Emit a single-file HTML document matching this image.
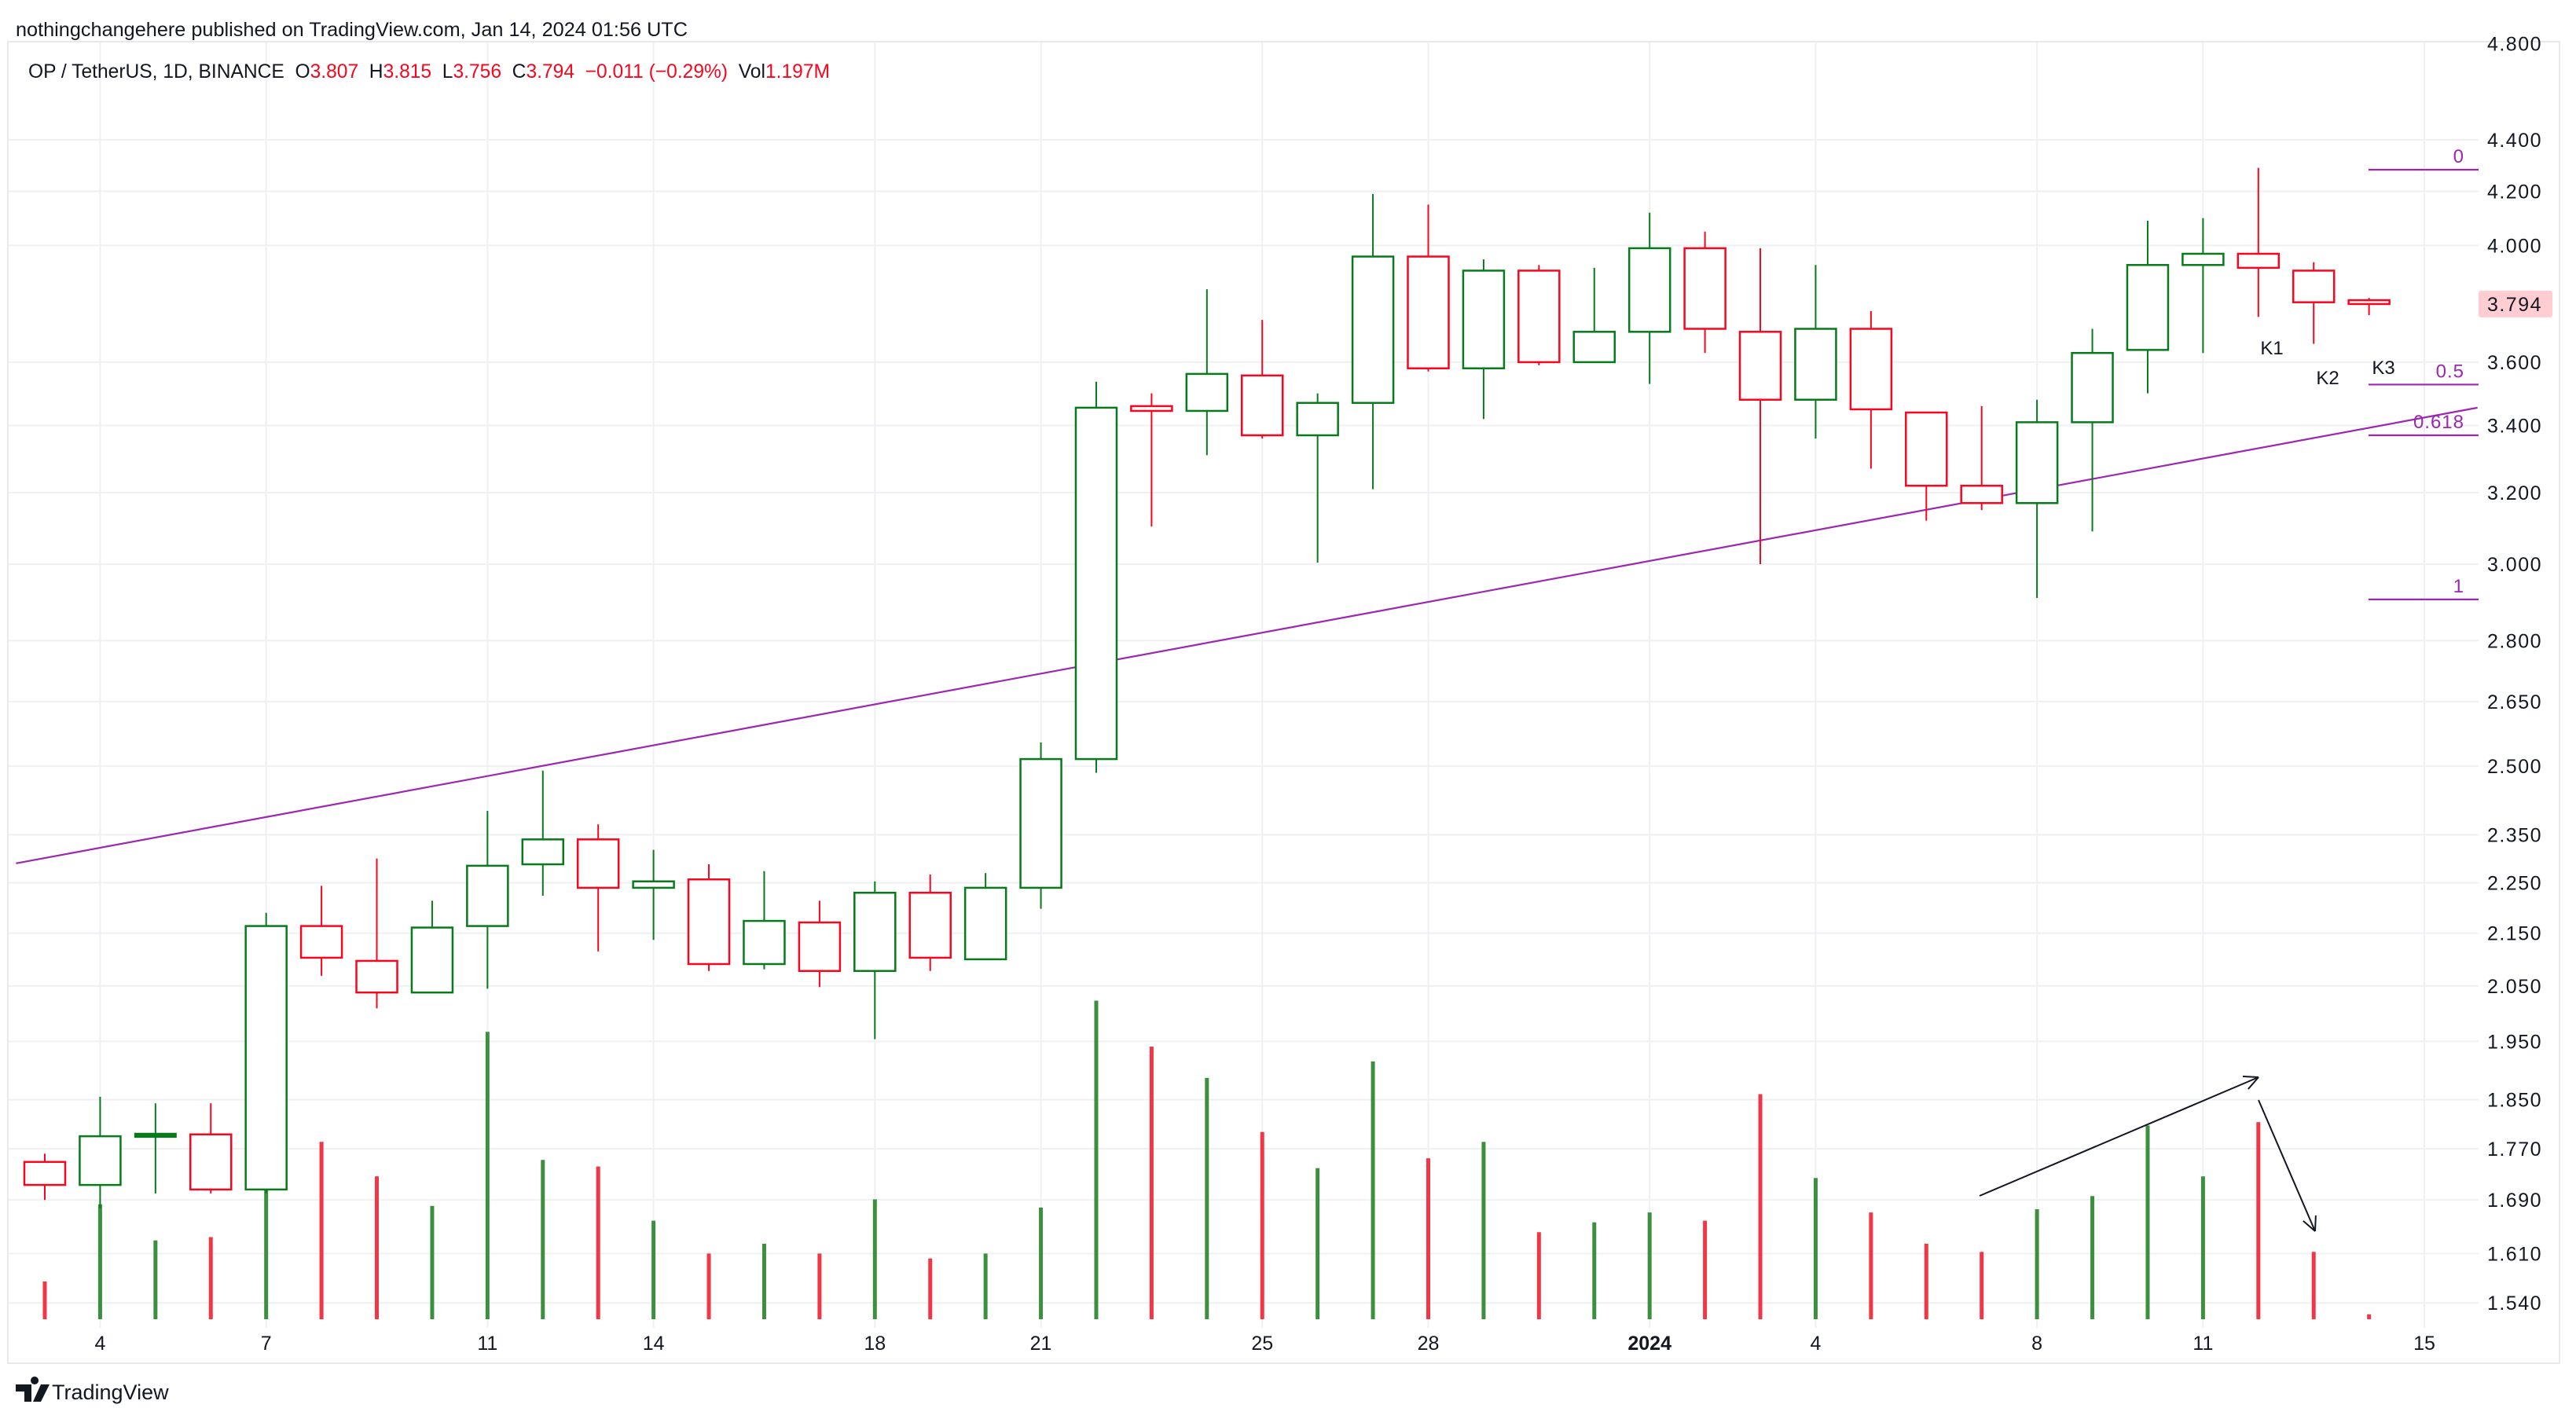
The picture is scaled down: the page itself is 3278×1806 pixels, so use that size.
<!DOCTYPE html>
<html><head><meta charset="utf-8"><style>
html,body{margin:0;padding:0;background:#fff;}
svg{display:block;font-family:"Liberation Sans",sans-serif;}
</style></head><body>
<svg id="chart" width="3278" height="1806" viewBox="0 0 3278 1806" xmlns="http://www.w3.org/2000/svg">
<rect x="0" y="0" width="3278" height="1806" fill="#fff"/>
<text x="20" y="46" font-size="25" fill="#131722" textLength="855" lengthAdjust="spacingAndGlyphs">nothingchangehere published on TradingView.com, Jan 14, 2024 01:56 UTC</text>
<rect x="10" y="53" width="3247" height="1682" fill="none" stroke="#e8e9ee" stroke-width="2"/>
<g id="grid"></g>
<g id="trend"></g>
<g id="vol"></g>
<g id="candles"></g>
<g id="fib"></g>
<g id="ann"></g>
<g id="axis"></g>
<text x="36" y="99" font-size="25" style="white-space:pre" xml:space="preserve" textLength="1020" lengthAdjust="spacingAndGlyphs"><tspan fill="#131722">OP / TetherUS, 1D, BINANCE  O</tspan><tspan fill="#f7061f">3.807</tspan><tspan fill="#131722">  H</tspan><tspan fill="#f7061f">3.815</tspan><tspan fill="#131722">  L</tspan><tspan fill="#f7061f">3.756</tspan><tspan fill="#131722">  C</tspan><tspan fill="#f7061f">3.794  −0.011 (−0.29%)</tspan><tspan fill="#131722">  Vol</tspan><tspan fill="#f7061f">1.197M</tspan></text>
<g>
<path d="M20 1762h20v22h-9v-13h-11z M44 1762a5 5 0 1 1 0.1 0z M52 1762h11l-11 22h-10z" fill="#131722"/>
<text x="66" y="1781" font-size="27" fill="#131722">TradingView</text>
</g>
</svg>
<script>
const dates = ["3","4","5","6","7","8","9","10","11","12","13","14","15","16","17","18","19","20","21","22","23","24","25","26","27","28","29","30","31","1","2","3","4","5","6","7","8","9","10","11","12","13","14"];
const opens = [1.749,1.713,1.790,1.793,1.706,2.164,2.097,2.038,2.164,2.288,2.340,2.240,2.257,2.091,2.171,2.078,2.230,2.100,2.240,2.516,3.460,3.445,3.557,3.37,3.47,3.96,3.58,3.91,3.60,3.70,3.99,3.70,3.48,3.71,3.44,3.22,3.17,3.41,3.64,3.93,3.97,3.91,3.807];
const highs = [1.762,1.855,1.844,1.844,2.190,2.244,2.300,2.214,2.401,2.490,2.372,2.318,2.288,2.274,2.214,2.253,2.267,2.270,2.554,3.537,3.50,3.845,3.74,3.50,4.19,4.15,3.95,3.93,3.92,4.12,4.05,3.99,3.93,3.77,3.44,3.46,3.48,3.71,4.09,4.10,4.29,3.94,3.815];
const lows = [1.690,1.677,1.700,1.700,1.700,2.069,2.009,2.038,2.045,2.224,2.115,2.137,2.078,2.081,2.048,1.954,2.078,2.100,2.198,2.485,3.104,3.31,3.36,3.004,3.21,3.57,3.42,3.59,3.60,3.53,3.63,3.00,3.36,3.27,3.12,3.15,2.91,3.09,3.50,3.63,3.75,3.66,3.756];
const closes = [1.713,1.790,1.793,1.706,2.164,2.103,2.038,2.161,2.285,2.340,2.240,2.253,2.091,2.174,2.078,2.230,2.103,2.240,2.516,3.455,3.445,3.562,3.37,3.47,3.96,3.58,3.91,3.60,3.70,3.99,3.71,3.48,3.71,3.45,3.22,3.17,3.41,3.63,3.93,3.97,3.92,3.80,3.794];
const volumes = [9.2,28,19.2,20,59.2,43.2,34.8,27.6,70,38.8,37.2,24,16,18.4,16,29.2,14.8,16,27.2,77.6,66.4,58.8,45.6,36.8,62.8,39.2,43.2,21.2,23.6,26,24,54.8,34.4,26,18.4,16.4,26.8,30,47.2,34.8,48,16.4,1.197];
const priceTicks = [4.4,4.2,4.0,3.6,3.4,3.2,3.0,2.8,2.65,2.5,2.35,2.25,2.15,2.05,1.95,1.85,1.77,1.69,1.61,1.54];
const priceTickLabels = ["4.400","4.200","4.000","3.600","3.400","3.200","3.000","2.800","2.650","2.500","2.350","2.250","2.150","2.050","1.950","1.850","1.770","1.690","1.610","1.540"];
const dateTickIdx = [1,4,8,11,15,18,22,25,29,32,36,39,43];
const dateTickLabels = ["4","7","11","14","18","21","25","28","2024","4","8","11","15"];
const fibLevels = [0,0.5,0.618,1];
const fibLabels = ["0","0.5","0.618","1"];
const fibHigh = 4.283, fibLow = 2.906;
const trendStart = [-0.52, 2.29], trendEnd = [43.96, 3.455];
const lastPrice = 3.794;

const NS="http://www.w3.org/2000/svg";
const X0=57, DX=70.42, PR=3154;
function xs(i){return X0+i*DX;}
function ys(p){return 718-(Math.log(p)-Math.log(3))*1410;}
function vh(v){return v*5.225;}
const VBASE=1679;
function mk(tag,attrs,parent){const e=document.createElementNS(NS,tag);for(const k in attrs)e.setAttribute(k,attrs[k]);parent.appendChild(e);return e;}
const G=id=>document.getElementById(id);
const GREEN="#087a1c", RED="#f7061f", VG="#3b8f3f", VR="#f23645", PURP="#9c27b0";

priceTicks.forEach((p,k)=>{
  const l=mk('line',{x1:11,x2:PR,y1:ys(p),y2:ys(p),stroke:'#eef0f3','stroke-width':2},G('grid'));
  
  
  const t=mk('text',{x:3235,y:ys(p)+9,'font-size':25,'text-anchor':'end',fill:'#131722','letter-spacing':'1.5'},G('axis'));
  t.textContent=priceTickLabels[k];
  
  
});
{const t=mk('text',{x:3235,y:ys(4.8)+9,'font-size':25,'text-anchor':'end',fill:'#131722','letter-spacing':'1.5'},G('axis'));t.textContent="4.800";

}
dateTickIdx.forEach((i,k)=>{
  const l=mk('line',{x1:xs(i),x2:xs(i),y1:54,y2:1690,stroke:'#eef0f3','stroke-width':2},G('grid'));
  
  
  const t=mk('text',{x:xs(i),y:1718,'font-size':25,'text-anchor':'middle',fill:'#131722','font-weight':dateTickLabels[k]==="2024"?'bold':'normal'},G('axis'));
  t.textContent=dateTickLabels[k];
  
  
});
{const r=mk('rect',{x:PR,y:ys(lastPrice)-17,width:94,height:34,rx:3,fill:'#ffcdd2'},G('axis'));


const t=mk('text',{x:3235,y:ys(lastPrice)+9,'font-size':25,'text-anchor':'end',fill:'#131722','letter-spacing':'1.5'},G('axis'));t.textContent=lastPrice.toFixed(3);

}

{const l=mk('line',{x1:xs(trendStart[0]),y1:ys(trendStart[1]),x2:xs(trendEnd[0]),y2:ys(trendEnd[1]),stroke:PURP,'stroke-width':2.2},G('trend'));

}

volumes.forEach((v,i)=>{
  const up=closes[i]>=opens[i];
  const r=mk('rect',{x:xs(i)-2.5,y:VBASE-vh(v),width:5,height:vh(v),fill:up?VG:VR},G('vol'));
  
  
});

opens.forEach((o,i)=>{
  const c=closes[i], up=c>=o, col=up?GREEN:RED, x=xs(i);
  const g=mk('g',{},G('candles'));
  
  
  const top=ys(Math.max(o,c)), bot=ys(Math.min(o,c));
  mk('line',{x1:x,x2:x,y1:ys(highs[i]),y2:top,stroke:col,'stroke-width':2},g);
  mk('line',{x1:x,x2:x,y1:bot,y2:ys(lows[i]),stroke:col,'stroke-width':2},g);
  const h=bot-top;
  if(h<2.5){mk('rect',{x:x-27,y:top-2,width:54,height:Math.max(h,1)+4,fill:col},g);}
  else mk('rect',{x:x-26,y:top,width:52,height:h,fill:'#fff',stroke:col,'stroke-width':2.5},g);
});

const fy0=ys(fibHigh), fy1=ys(fibLow);
fibLevels.forEach((lv,k)=>{
  const y=fy0+lv*(fy1-fy0);
  const l=mk('line',{x1:3014,x2:PR,y1:y,y2:y,stroke:PURP,'stroke-width':2.2},G('fib'));
  
  
  const t=mk('text',{x:3136,y:y-9,'font-size':24,'text-anchor':'end',fill:PURP,'letter-spacing':'1'},G('fib'));
  t.textContent=fibLabels[k];
  
  
});

[["K1",2891,451],["K2",2962,489],["K3",3033,476]].forEach(a=>{
  const t=mk('text',{x:a[1],y:a[2],'font-size':24,'text-anchor':'middle',fill:'#131722'},G('ann'));
  t.textContent=a[0];
  
  
});
function arrow(x1,y1,x2,y2){
  const g=mk('g',{},G('ann'));
  
  
  mk('line',{x1,y1,x2,y2,stroke:'#131722','stroke-width':2},g);
  const a=Math.atan2(y2-y1,x2-x1), L=20;
  [0.45,-0.45].forEach(d=>mk('line',{x1:x2,y1:y2,x2:x2-L*Math.cos(a+d),y2:y2-L*Math.sin(a+d),stroke:'#131722','stroke-width':2},g));
}
arrow(2519,1522,2874,1371);
arrow(2874,1400,2946,1567);
</script>
</body></html>
